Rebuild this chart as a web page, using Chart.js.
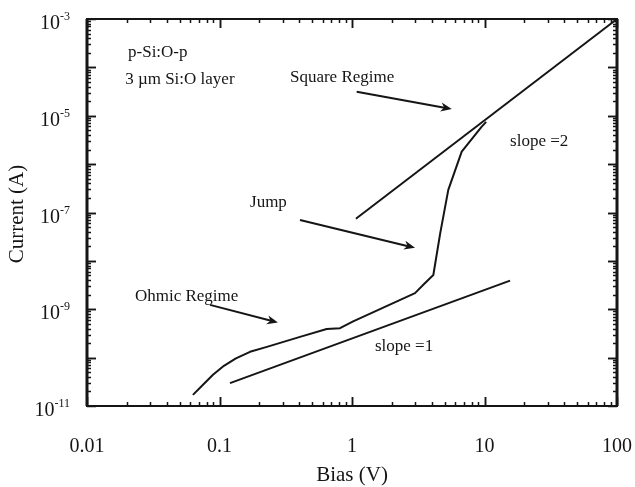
<!DOCTYPE html>
<html>
<head>
<meta charset="utf-8">
<script src="https://cdn.jsdelivr.net/npm/chart.js@4/dist/chart.umd.min.js"></script>
<style>
  body{margin:0;background:#fff;}
  canvas{display:block;}
</style>
</head>
<body>
<canvas id="iv" width="635" height="487"></canvas>
<script>
// measured I-V curve
const biasMeasured = [0.063, 0.0751, 0.0893, 0.108, 0.133, 0.170, 0.228, 0.405, 0.644, 0.812, 1.02, 2.99, 3.56, 4.11, 4.63, 5.33, 6.73, 9.53, 10.3];
const currentMeasured = [1.7e-11, 2.74e-11, 4.42e-11, 6.78e-11, 9.67e-11, 1.32e-10, 1.67e-10, 2.69e-10, 3.9e-10, 4.07e-10, 5.6e-10, 2.15e-9, 3.5e-9, 5.1e-9, 3.7e-8, 2.93e-7, 1.81e-6, 5.96e-6, 7.45e-6];

// guide lines, slope 2 and slope 1
const biasSquare = [1.07, 100];
const currentSquare = [7.4e-8, 1e-3];
const biasOhmic = [0.12, 15.6];
const currentOhmic = [2.97e-11, 3.9e-9];

// axis labels
const xTickValues = [0.01, 0.1, 1, 10, 100];
const xTickLabels = ['0.01', '0.1', '1', '10', '100'];
const yTickExponents = [-3, -5, -7, -9, -11];

const SERIF = '"Liberation Serif", "Times New Roman", serif';
const INK = '#151515';

// text + arrow notes, placed in (V, A)
const notes = [
  {text:'p-Si:O-p', x:0.0204, y:1.99e-4},
  {text:'3 \u00b5m Si:O layer', x:0.0194, y:5.5e-5},
  {text:'Square Regime', x:0.34, y:6.3e-5},
  {text:'slope =2', x:15.6, y:2.88e-6},
  {text:'Jump', x:0.17, y:1.58e-7},
  {text:'Ohmic Regime', x:0.023, y:1.8e-9},
  {text:'slope =1', x:1.49, y:1.67e-10}
];
const arrows = [
  {from:[1.085, 3.15e-5], to:[5.66, 1.38e-5]},
  {from:[0.405, 7.03e-8], to:[2.99, 1.86e-8]},
  {from:[0.0848, 1.23e-9], to:[0.276, 5.3e-10]}
];

function pts(xs, ys){ return xs.map((v,i)=>({x:v, y:ys[i]})); }

function arrow(ctx, x0, y0, x1, y1){
  const ang = Math.atan2(y1-y0, x1-x0), L = 11, W = 4.5;
  ctx.beginPath(); ctx.moveTo(x0,y0); ctx.lineTo(x1 - Math.cos(ang)*6, y1 - Math.sin(ang)*6); ctx.stroke();
  ctx.beginPath();
  ctx.moveTo(x1, y1);
  ctx.lineTo(x1 - L*Math.cos(ang) + W*Math.sin(ang), y1 - L*Math.sin(ang) - W*Math.cos(ang));
  ctx.lineTo(x1 - 0.7*L*Math.cos(ang), y1 - 0.7*L*Math.sin(ang));
  ctx.lineTo(x1 - L*Math.cos(ang) - W*Math.sin(ang), y1 - L*Math.sin(ang) + W*Math.cos(ang));
  ctx.closePath(); ctx.fill();
}

// frame, inward ticks, tick labels, titles and notes
const axesPlugin = {
  id:'axesPlugin',
  afterDraw(chart){
    const {ctx, chartArea:a, scales:{x, y}} = chart;
    ctx.save();
    ctx.strokeStyle = INK; ctx.fillStyle = INK; ctx.lineCap = 'butt';

    ctx.lineWidth = 1.5;
    for(let k=-2;k<2;k++) for(let m=1;m<=10;m++){
      const px = Math.round(x.getPixelForValue(m*Math.pow(10,k))) + 0.5;
      const len = (m==1||m==10) ? 9 : 4;
      ctx.beginPath();
      ctx.moveTo(px, a.bottom); ctx.lineTo(px, a.bottom-len);
      ctx.moveTo(px, a.top); ctx.lineTo(px, a.top+len);
      ctx.stroke();
    }
    for(let k=-11;k<-3;k++) for(let m=1;m<=10;m++){
      const py = Math.round(y.getPixelForValue(m*Math.pow(10,k))) + 0.5;
      const len = (m==1||m==10) ? 9 : 4;
      ctx.beginPath();
      ctx.moveTo(a.left, py); ctx.lineTo(a.left+len, py);
      ctx.moveTo(a.right, py); ctx.lineTo(a.right-len, py);
      ctx.stroke();
    }

    ctx.lineWidth = 2;
    ctx.strokeRect(a.left, a.top, a.right-a.left, a.bottom-a.top);
    ctx.lineWidth = 3;
    ctx.beginPath();
    ctx.moveTo(a.left, a.top); ctx.lineTo(a.left, a.bottom);
    ctx.moveTo(a.right, a.top); ctx.lineTo(a.right, a.bottom);
    ctx.stroke();

    // x tick labels
    ctx.font = '20px ' + SERIF;
    ctx.textAlign = 'center'; ctx.textBaseline = 'alphabetic';
    xTickValues.forEach((v,i)=>{ ctx.fillText(xTickLabels[i], x.getPixelForValue(v), a.bottom+46); });

    // y tick labels as 10^n
    yTickExponents.forEach(e=>{
      const py = y.getPixelForValue(Math.pow(10,e));
      const right = 70;
      ctx.textAlign = 'right';
      ctx.font = '12px ' + SERIF;
      const sup = '-' + Math.abs(e);
      const sw = ctx.measureText(sup).width;
      ctx.fillText(sup, right, py+1);
      ctx.font = '20px ' + SERIF;
      ctx.fillText('10', right - sw, py+10);
    });

    // axis titles
    ctx.font = '21px ' + SERIF;
    ctx.textAlign = 'center';
    ctx.fillText('Bias (V)', (a.left+a.right)/2, 481);
    ctx.save();
    ctx.translate(23, 214); ctx.rotate(-Math.PI/2);
    ctx.fillText('Current (A)', 0, 0);
    ctx.restore();

    // notes
    ctx.font = '17px ' + SERIF;
    ctx.textAlign = 'left'; ctx.textBaseline = 'middle';
    notes.forEach(n=>ctx.fillText(n.text, x.getPixelForValue(n.x), y.getPixelForValue(n.y)));
    ctx.lineWidth = 2;
    arrows.forEach(r=>arrow(ctx, x.getPixelForValue(r.from[0]), y.getPixelForValue(r.from[1]),
                               x.getPixelForValue(r.to[0]), y.getPixelForValue(r.to[1])));
    ctx.restore();
  }
};

const lineStyle = {showLine:true, borderColor:INK, borderWidth:2, pointRadius:0, tension:0, clip:false, fill:false, borderJoinStyle:'round'};

new Chart(document.getElementById('iv').getContext('2d'), {
  type:'scatter',
  data:{datasets:[
    Object.assign({label:'measured', data:pts(biasMeasured, currentMeasured)}, lineStyle),
    Object.assign({label:'slope 2', data:pts(biasSquare, currentSquare)}, lineStyle),
    Object.assign({label:'slope 1', data:pts(biasOhmic, currentOhmic)}, lineStyle)
  ]},
  options:{
    responsive:false,
    animation:false,
    layout:{padding:{left:87, right:18, top:19, bottom:81}},
    plugins:{legend:{display:false}, tooltip:{enabled:false}},
    scales:{
      x:{type:'logarithmic', min:0.01, max:100, display:false},
      y:{type:'logarithmic', min:1e-11, max:1e-3, display:false}
    }
  },
  plugins:[axesPlugin]
});
</script>
</body>
</html>
